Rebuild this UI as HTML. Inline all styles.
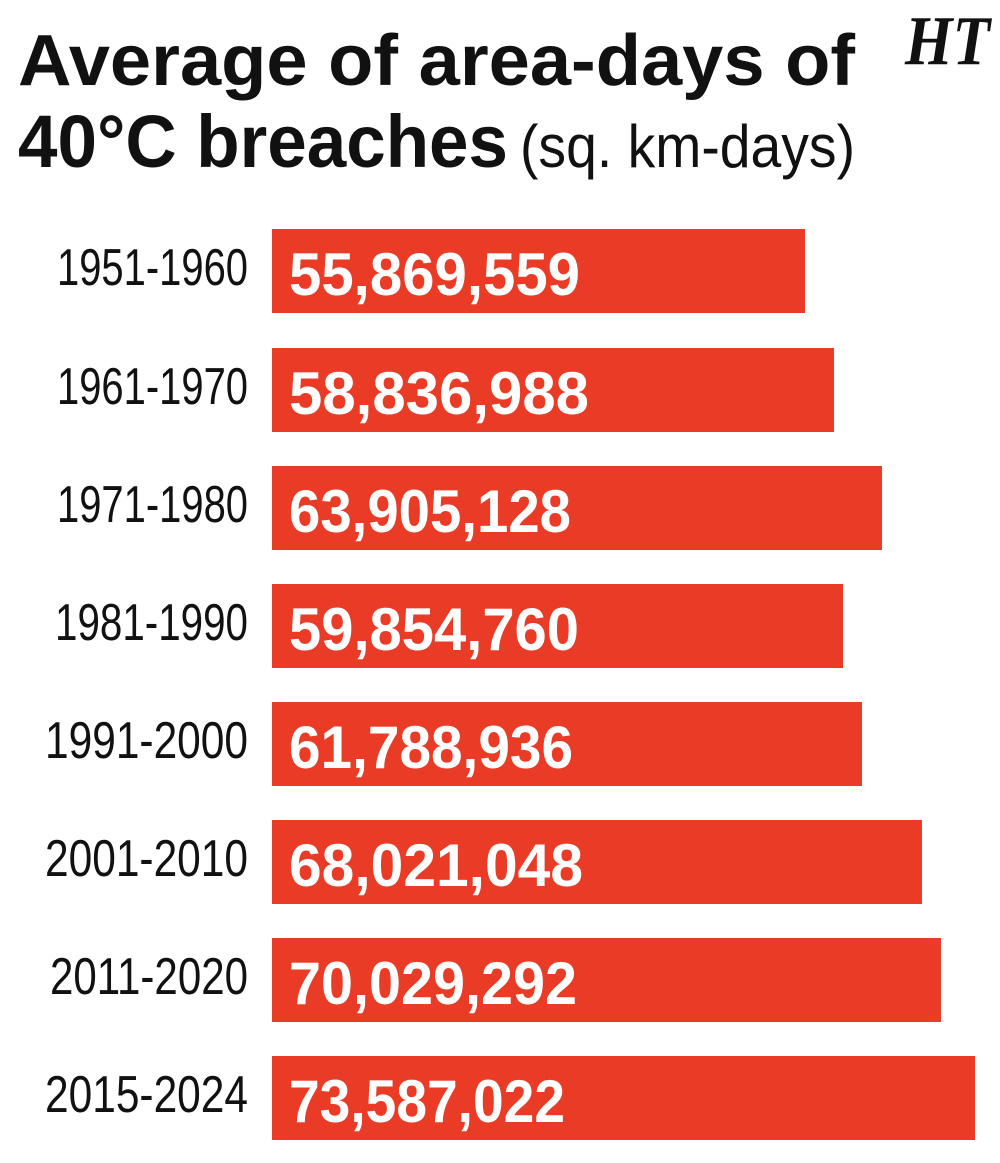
<!DOCTYPE html>
<html><head><meta charset="utf-8"><style>
html,body{margin:0;padding:0;background:#fff;}
svg{display:block;}
</style></head><body>
<svg width="1000" height="1163" viewBox="0 0 1000 1163" xmlns="http://www.w3.org/2000/svg">
<rect width="1000" height="1163" fill="#fff"/>
<g font-family="Liberation Sans, sans-serif" fill="#111">
<text x="18" y="85" font-size="72" font-weight="bold" textLength="837" lengthAdjust="spacingAndGlyphs">Average of area-days of</text>
<text x="18" y="167" font-size="74" font-weight="bold" textLength="490" lengthAdjust="spacingAndGlyphs">40°C breaches</text>
<text x="520" y="167" font-size="60" textLength="335" lengthAdjust="spacingAndGlyphs">(sq. km-days)</text>
<text x="905" y="64" font-family="Liberation Serif, serif" font-size="70" font-weight="bold" font-style="italic" textLength="85" lengthAdjust="spacingAndGlyphs">HT</text>
</g>
<g fill="#ea3b26">
<rect x="272" y="229" width="533" height="84"/>
<rect x="272" y="348" width="562" height="84"/>
<rect x="272" y="466" width="610" height="84"/>
<rect x="272" y="584" width="571" height="84"/>
<rect x="272" y="702" width="590" height="84"/>
<rect x="272" y="820" width="650" height="84"/>
<rect x="272" y="938" width="669" height="84"/>
<rect x="272" y="1056" width="703" height="84"/>
</g>
<g font-family="Liberation Sans, sans-serif" font-size="52" fill="#111">
<text x="57" y="285" textLength="191" lengthAdjust="spacingAndGlyphs">1951-1960</text>
<text x="57" y="404" textLength="191" lengthAdjust="spacingAndGlyphs">1961-1970</text>
<text x="57" y="522" textLength="191" lengthAdjust="spacingAndGlyphs">1971-1980</text>
<text x="55" y="640" textLength="193" lengthAdjust="spacingAndGlyphs">1981-1990</text>
<text x="45" y="758" textLength="203" lengthAdjust="spacingAndGlyphs">1991-2000</text>
<text x="45" y="876" textLength="203" lengthAdjust="spacingAndGlyphs">2001-2010</text>
<text x="50" y="994" textLength="198" lengthAdjust="spacingAndGlyphs">2011-2020</text>
<text x="45" y="1112" textLength="203" lengthAdjust="spacingAndGlyphs">2015-2024</text>
</g>
<g font-family="Liberation Sans, sans-serif" font-size="60" font-weight="bold" fill="#fff">
<text x="289" y="295" textLength="291" lengthAdjust="spacingAndGlyphs">55,869,559</text>
<text x="289" y="414" textLength="300" lengthAdjust="spacingAndGlyphs">58,836,988</text>
<text x="289" y="532" textLength="282" lengthAdjust="spacingAndGlyphs">63,905,128</text>
<text x="289" y="650" textLength="290" lengthAdjust="spacingAndGlyphs">59,854,760</text>
<text x="289" y="768" textLength="284" lengthAdjust="spacingAndGlyphs">61,788,936</text>
<text x="289" y="886" textLength="294" lengthAdjust="spacingAndGlyphs">68,021,048</text>
<text x="289" y="1004" textLength="288" lengthAdjust="spacingAndGlyphs">70,029,292</text>
<text x="289" y="1122" textLength="276" lengthAdjust="spacingAndGlyphs">73,587,022</text>
</g>
</svg>
</body></html>
